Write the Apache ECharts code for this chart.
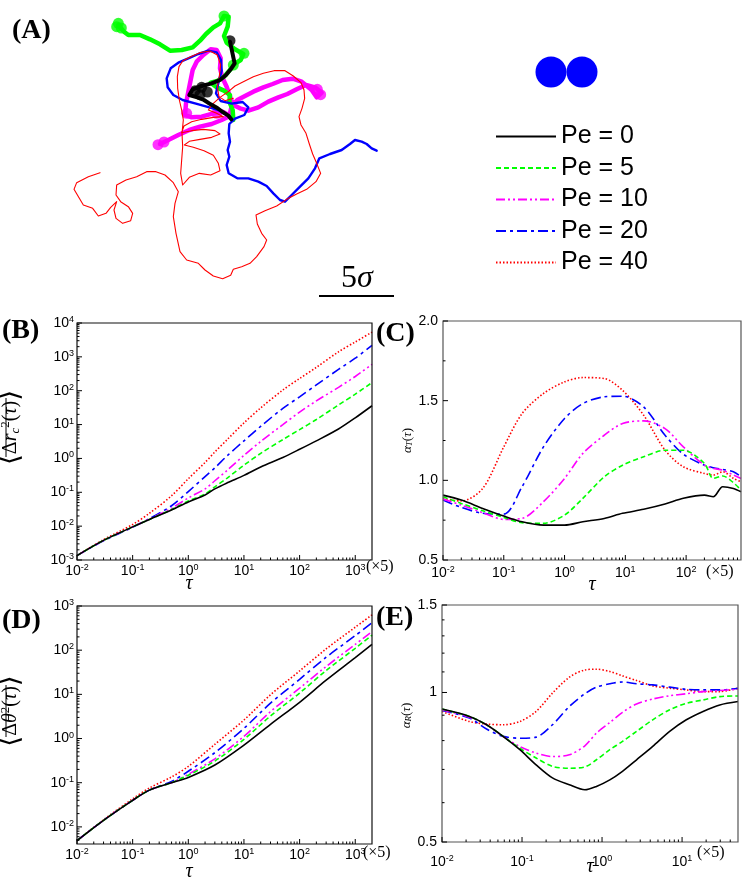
<!DOCTYPE html>
<html>
<head>
<meta charset="utf-8">
<script src="https://cdn.jsdelivr.net/npm/echarts@6/dist/echarts.min.js"></script>
<style>
  html, body { margin: 0; padding: 0; background: #fff; }
  #main { width: 747px; height: 877px; }
</style>
</head>
<body>
<div id="main"></div>
<script>
// ---- legend / series info ----
var names = ['Pe = 0', 'Pe = 5', 'Pe = 10', 'Pe = 20', 'Pe = 40'];

// ---- (A) trajectories, lab units (5 sigma = 225 units), y grows downward ----
var trajRed = [[300,518],[265,530],[230,548],[222,568],[238,595],[250,615],[278,625],[295,648],[318,640],[332,622],[350,605],[342,630],[348,655],[368,670],[392,662],[398,640],[385,620],[362,605],[348,585],[350,555],[378,540],[410,530],[440,515],[468,515],[495,525],[520,548],[535,575],[525,610],[520,650],[528,700],[540,755],[560,780],[595,790],[615,810],[640,828],[668,836],[692,826],[700,808],[725,800],[750,790],[770,770],[792,740],[800,720],[785,700],[772,672],[768,645],[795,632],[830,618],[860,598],[890,582],[920,568],[948,545],[962,520],[950,490],[938,462],[928,432],[918,400],[903,375],[897,350],[906,325],[914,295],[912,270],[903,248],[880,228],[855,212],[822,212],[790,220],[760,230],[730,245],[705,258],[685,275],[660,292],[640,310],[625,330],[650,340],[670,350],[640,352],[605,358],[575,365],[552,378],[545,398],[575,392],[610,388],[645,392],[660,402],[635,412],[600,418],[568,424],[553,435],[580,442],[612,452],[640,466],[655,490],[660,512],[632,525],[598,520],[568,532],[548,555],[542,520],[545,480],[548,440],[546,400],[550,360],[545,330],[538,300],[533,265],[532,230],[537,200],[548,183],[572,170],[600,158],[630,153],[652,165],[662,195],[658,228],[652,260],[657,290],[675,302],[700,295]];
var trajBlue = [[690,350],[655,330],[620,320],[585,310],[548,300],[520,285],[503,262],[500,235],[512,205],[535,188],[565,175],[595,162],[625,152],[650,157],[663,180],[665,212],[656,245],[648,280],[662,303],[695,311],[728,306],[745,322],[733,345],[705,356],[688,372],[686,400],[690,425],[683,450],[688,470],[680,495],[686,520],[712,535],[745,535],[775,545],[800,558],[820,580],[840,600],[855,605],[875,585],[900,560],[925,535],[945,505],[958,475],[990,462],[1025,450],[1050,432],[1065,420],[1085,425],[1100,432],[1115,445],[1130,452]];
var trajMagenta = [[480,432],[505,420],[535,405],[568,390],[600,380],[635,372],[665,360],[690,348],[668,335],[640,340],[605,350],[575,352],[555,345],[558,310],[565,275],[572,240],[578,210],[590,185],[610,165],[632,148],[650,150],[662,175],[660,205],[668,235],[680,260],[690,290],[700,315],[720,325],[745,332],[775,322],[805,305],[835,292],[862,282],[890,268],[918,255],[945,262],[965,278],[950,292],[935,270],[905,245],[878,236],[848,240],[818,252],[790,262],[760,275],[735,288],[712,300],[695,318],[690,340]];
var trajGreen = [[355,75],[372,95],[385,105],[420,105],[450,118],[480,133],[510,152],[545,150],[578,142],[600,122],[618,102],[640,82],[660,70],[672,48],[686,50],[683,80],[672,108],[680,128],[705,148],[730,162],[722,180],[702,193],[690,210],[672,230],[652,243],[632,248],[650,262],[672,272],[690,285],[688,305],[698,330],[700,360]];
var trajBlack = [[690,125],[695,148],[700,172],[704,190],[692,208],[678,225],[660,240],[635,250],[605,258],[578,268],[568,285],[592,292],[612,300],[632,313],[652,324],[668,336],[684,346],[694,358]];
var blobGreen = [[355,70],[364,84],[350,80],[672,48],[732,160],[700,195]];
var blobBlack = [[690,122],[585,272],[605,262],[622,276],[600,284]];
var blobMagenta = [[474,434],[492,426],[952,268],[962,284],[650,340],[560,340]];
var scaleBar = [[957,888],[1182,888]];   // 5 sigma

// ---- (B) translational MSD ----
var tauB = [0.01, 0.03, 0.1, 0.2, 0.5, 1, 2, 3, 5, 10, 20, 50, 100, 200, 500, 1000, 2000];
var msdB0 = [0.00135, 0.0038, 0.0095, 0.0158, 0.030, 0.052, 0.083, 0.126, 0.19, 0.316, 0.56, 1.07, 1.86, 3.3, 7.4, 15.8, 36];
var msdB5 = [0.00135, 0.0038, 0.0095, 0.0158, 0.031, 0.055, 0.089, 0.145, 0.263, 0.63, 1.41, 3.6, 7.1, 14.1, 38, 79, 174];
var msdB10 = [0.00135, 0.0038, 0.0095, 0.0162, 0.034, 0.068, 0.126, 0.219, 0.447, 1.23, 3.16, 10, 23.4, 50, 126, 263, 603];
var msdB20 = [0.00135, 0.0037, 0.0093, 0.0166, 0.040, 0.105, 0.29, 0.525, 1.2, 3.3, 8.9, 30, 66, 148, 427, 912, 2190];
var msdB40 = [0.00135, 0.004, 0.0112, 0.024, 0.079, 0.251, 0.76, 1.55, 3.6, 11.2, 31, 105, 229, 490, 1410, 2750, 5370];

// ---- (C) translational exponent ----
var tauC = [0.01, 0.02, 0.045, 0.1, 0.2, 0.45, 1, 2, 4.5, 9, 20, 45, 90, 200, 280, 400, 600, 800];
var alphaC0 = [0.907, 0.876, 0.824, 0.776, 0.740, 0.719, 0.719, 0.740, 0.761, 0.793, 0.818, 0.851, 0.887, 0.907, 0.897, 0.960, 0.949, 0.928];
var alphaC5 = [0.897, 0.855, 0.809, 0.767, 0.734, 0.730, 0.782, 0.887, 1.022, 1.095, 1.148, 1.189, 1.189, 1.106, 1.012, 1.027, 0.985, 0.939];
var alphaC10 = [0.882, 0.845, 0.797, 0.755, 0.761, 0.866, 1.012, 1.169, 1.283, 1.357, 1.373, 1.325, 1.210, 1.095, 1.075, 1.064, 1.033, 1.012];
var alphaC20 = [0.876, 0.830, 0.793, 0.788, 0.960, 1.210, 1.388, 1.482, 1.524, 1.528, 1.461, 1.283, 1.164, 1.095, 1.079, 1.068, 1.054, 1.022];
var alphaC40 = [0.887, 0.870, 0.949, 1.210, 1.419, 1.545, 1.618, 1.645, 1.639, 1.565, 1.409, 1.189, 1.085, 1.043, 1.033, 1.054, 1.012, 0.991];

// ---- (D) rotational MSD ----
var tauD = [0.01, 0.03, 0.1, 0.2, 0.5, 1, 3, 10, 30, 100, 300, 1000, 2000];
var msdD0 = [0.0049, 0.0141, 0.040, 0.068, 0.10, 0.132, 0.251, 0.708, 2.09, 6.61, 20.9, 67.6, 135];
var msdD5 = [0.0049, 0.0141, 0.040, 0.068, 0.10, 0.148, 0.309, 0.955, 3.24, 10.7, 34.7, 110, 219];
var msdD10 = [0.0049, 0.0141, 0.040, 0.068, 0.10, 0.155, 0.347, 1.12, 4.07, 13.8, 42.7, 135, 263];
var msdD20 = [0.0049, 0.0141, 0.040, 0.068, 0.107, 0.182, 0.479, 1.70, 6.31, 21.9, 69.2, 214, 417];
var msdD40 = [0.0049, 0.0145, 0.043, 0.076, 0.135, 0.234, 0.741, 2.63, 9.77, 33.9, 107, 331, 631];

// ---- (E) rotational exponent ----
var tauE = [0.01, 0.022, 0.036, 0.058, 0.094, 0.15, 0.24, 0.39, 0.61, 0.85, 1.25, 1.8, 2.7, 4.3, 7, 11.3, 18.3, 29.6, 50];
var alphaE0 = [0.926, 0.895, 0.861, 0.816, 0.767, 0.715, 0.673, 0.652, 0.637, 0.647, 0.667, 0.694, 0.732, 0.779, 0.835, 0.881, 0.916, 0.944, 0.959];
var alphaE5 = [0.926, 0.895, 0.861, 0.816, 0.772, 0.738, 0.710, 0.704, 0.708, 0.732, 0.767, 0.797, 0.835, 0.881, 0.923, 0.951, 0.966, 0.981, 0.984];
var alphaE10 = [0.923, 0.892, 0.861, 0.815, 0.778, 0.755, 0.743, 0.749, 0.781, 0.828, 0.870, 0.912, 0.948, 0.970, 0.985, 0.994, 1.004, 1.009, 1.015];
var alphaE20 = [0.920, 0.888, 0.844, 0.816, 0.809, 0.813, 0.861, 0.937, 0.994, 1.025, 1.041, 1.050, 1.041, 1.036, 1.025, 1.015, 1.012, 1.012, 1.020];
var alphaE40 = [0.916, 0.874, 0.864, 0.861, 0.874, 0.916, 0.997, 1.073, 1.110, 1.114, 1.102, 1.080, 1.057, 1.031, 1.020, 1.012, 1.004, 1.004, 1.020];

// tick values on the linear alpha_T axis and the log alpha_R axis
var alphaCTicks = [0.5, 1.0, 1.5, 2.0];
var alphaCMinor = [0.75, 1.25, 1.75];
var alphaETicks = [0.5, 1, 1.5];
var alphaEMinor = [0.6, 0.7, 0.8, 0.9, 1.1, 1.2, 1.3, 1.4];

// ---- axis ranges (log10 of tau / value) ----
var lg = Math.log10;
var rangeB = { x: [-2, lg(2000)], y: [-3, 4] };
var rangeC = { x: [-2, lg(800)], y: [0.5, 2.0] };
var rangeD = { x: [-2, lg(2000)], y: [lg(0.0041), 3] };
var rangeE = { x: [-2, lg(50)], y: [lg(0.5), lg(1.5)] };

// panel boxes (left, top, width, height)
var boxB = [77, 323, 295, 237], boxC = [443, 321, 298, 239];
var boxD = [77, 606, 295, 238], boxE = [442, 605, 296, 237];

var colors = ['#000000', '#00ff00', '#ff00ff', '#0000ff', '#ff0000'];
var dashes = ['solid', [5, 3], [9, 3, 2, 3, 2, 3], [10, 4, 3, 4], [1.5, 2]];
var sans = 'Liberation Sans, Arial, sans-serif';
var serif = 'Liberation Serif, Times New Roman, serif';

function decades(r) {
  var out = [];
  for (var n = Math.ceil(r[0] - 1e-9); n <= r[1] + 1e-9; n++) out.push(n);
  return out;
}
function minors(r) {
  var out = [];
  for (var n = Math.floor(r[0]); n <= Math.ceil(r[1]); n++) {
    for (var k = 2; k <= 9; k++) {
      var v = n + lg(k);
      if (v > r[0] + 1e-9 && v < r[1] - 1e-9) out.push(v);
    }
  }
  return out;
}
var supRich = {
  sup: { fontSize: 9, fontFamily: sans, color: '#000', padding: [0, 0, 7, 0] }
};
function powLabel(v) { return '10{sup|' + Math.round(v) + '}'; }

function mainAxis(grid, pos, r, labels, fmt, margin, extra) {
  var ax = {
    type: 'value', gridIndex: grid, position: pos, min: r[0], max: r[1],
    axisLine: { show: false, onZero: false }, splitLine: { show: false }, axisTick: { show: false },
    axisLabel: { customValues: labels, formatter: fmt, margin: margin, color: '#000',
                 fontFamily: sans, fontSize: 14, rich: supRich }
  };
  for (var k in extra) ax[k] = extra[k];
  return ax;
}

var nameRich = {
  i: { fontFamily: serif, fontStyle: 'italic', fontSize: 20, color: '#000' },
  n: { fontFamily: serif, fontSize: 20, color: '#000' },
  s: { fontFamily: serif, fontStyle: 'italic', fontSize: 13, color: '#000', padding: [10, 0, 0, 0] },
  p: { fontFamily: serif, fontSize: 13, color: '#000', padding: [0, 0, 10, 0] },
  b: { fontFamily: 'DejaVu Sans', fontSize: 28, color: '#000' },
  ai: { fontFamily: serif, fontStyle: 'italic', fontSize: 13, color: '#000' },
  as: { fontFamily: serif, fontStyle: 'italic', fontSize: 9, color: '#000', padding: [6, 0, 0, 0] },
  an: { fontFamily: serif, fontSize: 13, color: '#000' }
};
function yName(text, gap, lift) {
  return { name: text, nameLocation: 'middle', nameRotate: 90, nameGap: gap,
           nameTextStyle: { rich: nameRich, padding: [0, 0, 0, lift] } };
}

function grid(b) {
  return { left: b[0], top: b[1], width: b[2], height: b[3], show: false,
           outerBoundsMode: 'none', containLabel: false };
}

function curves(tau, sets, xi, yi, logY) {
  var out = [];
  for (var k = sets.length - 1; k >= 0; k--) {
    var vals = sets[k];
    out.push({
      type: 'line', name: names[k], xAxisIndex: xi, yAxisIndex: yi,
      data: tau.map(function (t, i) { return [lg(t), logY ? lg(vals[i]) : vals[i]]; }),
      symbol: 'none', smooth: 0.3, silent: true,
      lineStyle: { color: colors[k], width: 1.6, type: dashes[k] },
      itemStyle: { color: colors[k] }
    });
  }
  return out;
}
function path(data, color, width) {
  return { type: 'line', name: 'trajectory', xAxisIndex: 0, yAxisIndex: 0, data: data,
           symbol: 'none', silent: true,
           lineStyle: { color: color, width: width, join: 'round', cap: 'round' } };
}
function blobs(data, color, size) {
  return { type: 'scatter', name: 'trajectory', xAxisIndex: 0, yAxisIndex: 0, data: data,
           symbolSize: size, silent: true, itemStyle: { color: color } };
}

var series = [
  path(trajMagenta, '#ff00ff', 4.5),
  blobs(blobMagenta, '#ff00ff', 11),
  path(trajGreen, '#00ff00', 4.5),
  blobs(blobGreen, '#00ff00', 11),
  path(trajBlue, '#0000ff', 2.4),
  path(trajRed, '#ff0000', 1.1),
  path(trajBlack, '#000000', 4),
  blobs(blobBlack, '#000000', 11),
  { type: 'line', name: 'scale', xAxisIndex: 0, yAxisIndex: 0, data: scaleBar, symbol: 'none',
    silent: true, lineStyle: { color: '#000', width: 2 } }
];
series = series
  .concat(curves(tauB, [msdB0, msdB5, msdB10, msdB20, msdB40], 1, 1, true))
  .concat(curves(tauC, [alphaC0, alphaC5, alphaC10, alphaC20, alphaC40], 2, 2, false))
  .concat(curves(tauD, [msdD0, msdD5, msdD10, msdD20, msdD40], 3, 3, true))
  .concat(curves(tauE, [alphaE0, alphaE5, alphaE10, alphaE20, alphaE40], 4, 4, true));

function txt(x, y, text, font, align, rich) {
  return { type: 'text', silent: true,
           style: { x: x, y: y, text: text, font: font, fill: '#000',
                    textAlign: align || 'left', textVerticalAlign: 'middle', rich: rich } };
}
function seg(x1, y1, x2, y2) {
  return { type: 'line', silent: true, z: 100, shape: { x1: x1, y1: y1, x2: x2, y2: y2 },
           style: { stroke: '#000', lineWidth: 1 } };
}
function frame(b, color) {
  return { type: 'rect', silent: true, z: 100,
           shape: { x: b[0], y: b[1], width: b[2], height: b[3] },
           style: { fill: 'none', stroke: color, lineWidth: 1.2 } };
}
var itRich = { it: { fontFamily: serif, fontStyle: 'italic', fontSize: 32, fill: '#000', color: '#000' } };

// inward tick marks: linear value axes (log10 data), so a tick sits at the same
// fraction of the panel as its value in the axis range
var tickEls = [];
function addTicks(box, rng, side, values, len) {
  values.forEach(function (v) {
    if (side === 'bottom') {
      var x = box[0] + (v - rng.x[0]) / (rng.x[1] - rng.x[0]) * box[2];
      var yb = box[1] + box[3];
      tickEls.push(seg(x, yb, x, yb - len));
    } else {
      var y = box[1] + box[3] - (v - rng.y[0]) / (rng.y[1] - rng.y[0]) * box[3];
      tickEls.push(seg(box[0], y, box[0] + len, y));
    }
  });
}
addTicks(boxB, rangeB, 'bottom', decades(rangeB.x), 5);
addTicks(boxB, rangeB, 'bottom', minors(rangeB.x), 2.5);
addTicks(boxB, rangeB, 'left', decades(rangeB.y), 5);
addTicks(boxB, rangeB, 'left', minors(rangeB.y), 2.5);
addTicks(boxC, rangeC, 'bottom', decades(rangeC.x), 5);
addTicks(boxC, rangeC, 'bottom', minors(rangeC.x), 2.5);
addTicks(boxC, rangeC, 'left', alphaCTicks, 5);
addTicks(boxC, rangeC, 'left', alphaCMinor, 2.5);
addTicks(boxD, rangeD, 'bottom', decades(rangeD.x), 5);
addTicks(boxD, rangeD, 'bottom', minors(rangeD.x), 2.5);
addTicks(boxD, rangeD, 'left', decades(rangeD.y), 5);
addTicks(boxD, rangeD, 'left', minors(rangeD.y), 2.5);
addTicks(boxE, rangeE, 'bottom', decades(rangeE.x), 5);
addTicks(boxE, rangeE, 'bottom', minors(rangeE.x), 2.5);
addTicks(boxE, rangeE, 'left', alphaETicks.map(lg), 5);
addTicks(boxE, rangeE, 'left', alphaEMinor.map(lg), 2.5);

var graphicEls = [
  frame(boxB, '#111'), frame(boxC, '#555'), frame(boxD, '#111'), frame(boxE, '#555'),
  { type: 'circle', silent: true, shape: { cx: 551, cy: 72, r: 15.5 }, style: { fill: '#0000ff' } },
  { type: 'circle', silent: true, shape: { cx: 582, cy: 72, r: 15.5 }, style: { fill: '#0000ff' } },
  txt(357, 279, '5{it|σ}', '32px ' + serif, 'center', itRich),
  txt(12, 31, '(A)', 'bold 28px ' + serif),
  txt(2, 331, '(B)', 'bold 28px ' + serif),
  txt(376, 334, '(C)', 'bold 28px ' + serif),
  txt(2, 621, '(D)', 'bold 28px ' + serif),
  txt(376, 618, '(E)', 'bold 28px ' + serif),
  txt(189, 584, 'τ', 'italic 20px ' + serif, 'center'),
  txt(592, 585, 'τ', 'italic 20px ' + serif, 'center'),
  txt(189, 872, 'τ', 'italic 20px ' + serif, 'center'),
  txt(590, 867, 'τ', 'italic 20px ' + serif, 'center'),
  txt(366, 567, '(×5)', '16px ' + serif),
  txt(706, 572, '(×5)', '16px ' + serif),
  txt(363, 853, '(×5)', '16px ' + serif),
  txt(697, 853, '(×5)', '16px ' + serif),
  seg(6, 398, 6, 457),
  seg(6, 685, 6, 737)
].concat(tickEls);

var myChart = echarts.init(document.getElementById('main'));
myChart.setOption({
  animation: false,
  backgroundColor: '#fff',
  grid: [
    { left: 0, top: 0, width: 747, height: 300, show: false, outerBoundsMode: 'none' },
    grid(boxB), grid(boxC), grid(boxD), grid(boxE)
  ],
  xAxis: [
    { type: 'value', gridIndex: 0, min: 0, max: 2241, show: false },
    mainAxis(1, 'bottom', rangeB.x, decades(rangeB.x), powLabel, 3),
    mainAxis(2, 'bottom', rangeC.x, decades(rangeC.x), powLabel, 5),
    mainAxis(3, 'bottom', rangeD.x, decades(rangeD.x), powLabel, 3),
    mainAxis(4, 'bottom', rangeE.x, decades(rangeE.x), powLabel, 12)
  ],
  yAxis: [
    { type: 'value', gridIndex: 0, min: 0, max: 900, inverse: true, show: false },
    mainAxis(1, 'left', rangeB.y, decades(rangeB.y), powLabel, 3,
      yName('{b|⟨}{n|Δ}{i|r}{s|c}{p|2}{n|(}{i|τ}{n|)}{b|⟩}', 52, 28)),
    mainAxis(2, 'left', rangeC.y, alphaCTicks, function (v) { return v.toFixed(1); }, 5,
      { name: '{ai|α}{as|T}{an|(}{ai|τ}{an|)}', nameLocation: 'middle', nameRotate: 90, nameGap: 21,
        nameTextStyle: { rich: nameRich } }),
    mainAxis(3, 'left', rangeD.y, decades(rangeD.y), powLabel, 3,
      yName('{b|⟨}{n|Δ}{i|θ}{p|2}{n|(}{i|τ}{n|)}{b|⟩}', 52, 28)),
    mainAxis(4, 'left', rangeE.y, alphaETicks.map(lg),
      function (v) { return String(Math.round(Math.pow(10, v) * 10) / 10); }, 5,
      { name: '{ai|α}{as|R}{an|(}{ai|τ}{an|)}', nameLocation: 'middle', nameRotate: 90, nameGap: 21,
        nameTextStyle: { rich: nameRich, padding: [0, 0, 0, 16] } })
  ],
  legend: {
    data: names, orient: 'vertical', left: 490, top: 119, itemWidth: 60, itemHeight: 14, itemGap: 6.5,
    selectedMode: false,
    itemStyle: { opacity: 0 },
    textStyle: { fontFamily: sans, fontSize: 25, color: '#000', lineHeight: 25 }
  },
  graphic: { elements: graphicEls },
  series: series
});
</script>
</body>
</html>
